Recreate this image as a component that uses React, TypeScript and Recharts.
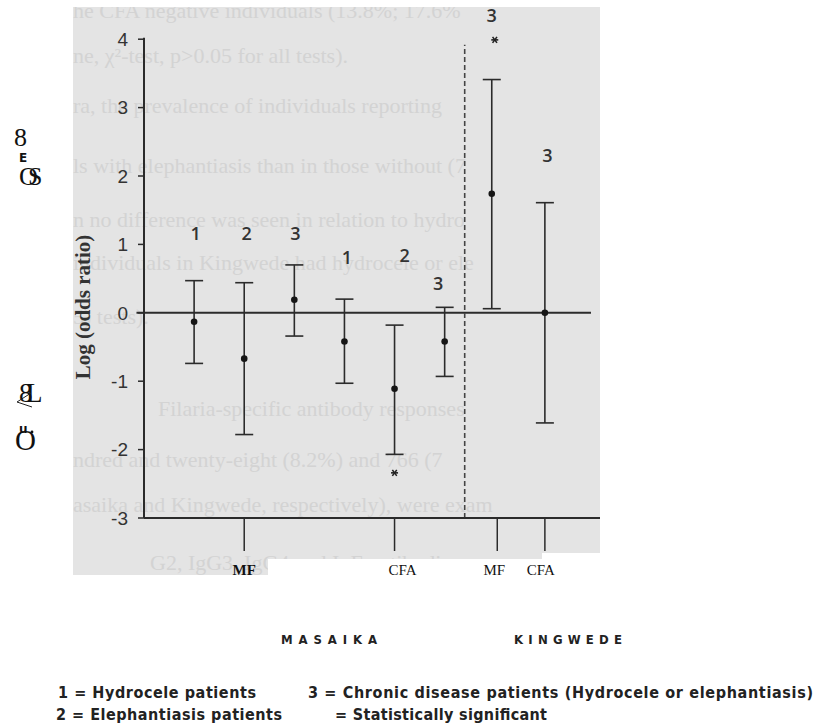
import { ComposedChart, Scatter, ErrorBar, XAxis, YAxis, ReferenceLine } from 'recharts'

// slot positions along the x axis (Masaika: 1-6, Kingwede: ~7-8)
const slots = [1, 2, 3, 4, 5, 6, 6.94, 8]
const groupCodes = ['1', '2', '3', '1', '2', '3', '3', '3']
const logOdds = [-0.13, -0.67, 0.19, -0.42, -1.11, -0.42, 1.74, 0]
const lowerCI = [-0.74, -1.78, -0.34, -1.03, -2.07, -0.93, 0.06, -1.61]
const upperCI = [0.47, 0.44, 0.7, 0.2, -0.18, 0.08, 3.41, 1.61]
const codeSlots = [1.03, 2.05, 3.02, 4.05, 5.2, 5.87, 6.94, 8.05]
const codeLabelAt = [1.16, 1.16, 1.16, 0.82, 0.84, 0.43, 4.35, 2.3]
const starSlots = [5, 7.0]
const starAt = [-2.34, 3.99]
const testTicks = [2, 5, 7.05, 8]
const testLabels = ['MF', 'CFA', 'MF', 'CFA']
const yTicks = [-3, -2, -1, 0, 1, 2, 3, 4]
const siteDivider = 6.4

const pageText = [
  { y: 18, x: 73, t: 'he CFA negative individuals (13.8%; 17.6%' },
  { y: 63, x: 73, t: 'ne, χ²-test, p>0.05 for all tests).' },
  { y: 113, x: 73, t: 'ra, the prevalence of individuals reporting' },
  { y: 173, x: 73, t: 'ls with elephantiasis than in those without (7' },
  { y: 227, x: 73, t: 'n no difference was seen in relation to hydro' },
  { y: 270, x: 73, t: 'individuals in Kingwede had hydrocele or ele' },
  { y: 324, x: 73, t: '5) tests).' },
  { y: 416, x: 158, t: 'Filaria-specific antibody responses' },
  { y: 467, x: 73, t: 'ndred and twenty-eight (8.2%) and 766 (7' },
  { y: 512, x: 73, t: 'asaika and Kingwede, respectively), were exam' },
  { y: 570, x: 150, t: 'G2, IgG3, IgG4 and IgE antibodies' },
]

const points = slots.map((x, i) => ({
  x,
  y: logOdds[i],
  ci: [logOdds[i] - lowerCI[i], upperCI[i] - logOdds[i]],
}))
const codes = codeSlots.map((x, i) => ({ x, y: codeLabelAt[i], code: groupCodes[i] }))
const stars = starSlots.map((x, i) => ({ x, y: starAt[i] }))

const ink = '#2b2b2b'
const labelDx = [0, 8, -3, -4]

function TestTick(props: any) {
  const { x, y, index } = props
  const bold = index === 0
  return (
    <g>
      <defs>
        <clipPath id={`tt${index}`}>
          <rect x={x - 30} y={y} width={60} height={bold ? 24 : 40} />
        </clipPath>
      </defs>
      <text
        x={x + labelDx[index]}
        y={y + 24}
        textAnchor="middle"
        clipPath={`url(#tt${index})`}
        fontFamily="'Liberation Serif', serif"
        fontWeight={bold ? 700 : 400}
        fontSize={15}
        fill="#111"
      >
        {testLabels[index]}
      </text>
    </g>
  )
}

function Dot(props: any) {
  const { cx, cy } = props
  return <circle cx={cx} cy={cy} r={3.3} fill="#151515" />
}

function CodeLabel(props: any) {
  const { cx, cy, payload } = props
  return (
    <text
      x={cx}
      y={cy}
      textAnchor="middle"
      dominantBaseline="central"
      fontFamily="'Open Sans', sans-serif"
      fontSize={18}
      fontWeight={600}
      fill="#333"
    >
      {payload.code}
    </text>
  )
}

function Star(props: any) {
  const { cx, cy } = props
  return (
    <g stroke="#222" strokeWidth={1.6}>
      <line x1={cx - 3.5} y1={cy} x2={cx + 3.5} y2={cy} />
      <line x1={cx - 2.2} y1={cy - 3} x2={cx + 2.2} y2={cy + 3} />
      <line x1={cx + 2.2} y1={cy - 3} x2={cx - 2.2} y2={cy + 3} />
    </g>
  )
}

export default function App() {
  return (
    <div style={{ position: 'absolute', left: 0, top: 0, width: 816, height: 727, background: '#fff', overflow: 'hidden' }}>
      {/* scanned panel */}
      <div style={{ position: 'absolute', left: 73, top: 7, width: 527, height: 568, background: '#e4e4e4' }} />
      <svg width={816} height={727} style={{ position: 'absolute', left: 0, top: 0 }}>
        <defs>
          <clipPath id="panel">
            <rect x={73} y={7} width={527} height={568} />
          </clipPath>
        </defs>
        <g clipPath="url(#panel)" fontFamily="'Liberation Serif', serif" fontSize={22} fill="#d3d3d3">
          {pageText.map((l) => (
            <text key={l.y} x={l.x} y={l.y}>
              {l.t}
            </text>
          ))}
        </g>
      </svg>
      <div style={{ position: 'absolute', left: 268, top: 559, width: 274, height: 20, background: '#fff' }} />
      <div style={{ position: 'absolute', left: 542, top: 553, width: 58, height: 25, background: '#fff' }} />

      <div style={{ position: 'absolute', left: 0, top: 0 }}>
        <ComposedChart width={816} height={600} margin={{ top: 5, right: 216, bottom: 22, left: 84 }}>
          <XAxis
            type="number"
            dataKey="x"
            domain={[0, 9.1]}
            ticks={testTicks}
            interval={0}
            tickSize={33}
            tickMargin={0}
            height={60}
            axisLine={{ stroke: ink, strokeWidth: 2 }}
            tickLine={{ stroke: ink, strokeWidth: 1.5 }}
            tick={<TestTick />}
          />
          <YAxis
            type="number"
            dataKey="y"
            domain={[-3, 4.5]}
            ticks={yTicks}
            interval={0}
            width={60}
            tickSize={6}
            tickMargin={10}
            axisLine={false}
            tickLine={{ stroke: ink, strokeWidth: 1.5 }}
            tick={{ fontFamily: "'Liberation Sans', Arial, sans-serif", fontSize: 19, fill: '#333' }}
          />
          <ReferenceLine
            segment={[{ x: 0, y: -3 }, { x: 0, y: 4.02 }]}
            stroke={ink}
            strokeWidth={2}
            ifOverflow="visible"
          />
          <ReferenceLine
            segment={[{ x: -0.15, y: 0 }, { x: 8.92, y: 0 }]}
            stroke={ink}
            strokeWidth={2}
            ifOverflow="visible"
          />
          <ReferenceLine
            segment={[{ x: siteDivider, y: -3 }, { x: siteDivider, y: 3.92 }]}
            stroke="#444"
            strokeWidth={1.6}
            strokeDasharray="5 3"
            ifOverflow="visible"
          />
          <Scatter data={points} dataKey="y" shape={<Dot />} isAnimationActive={false}>
            <ErrorBar dataKey="ci" direction="y" width={9} stroke={ink} strokeWidth={1.6} isAnimationActive={false} />
          </Scatter>
          <Scatter data={codes} dataKey="y" shape={<CodeLabel />} isAnimationActive={false} />
          <Scatter data={stars} dataKey="y" shape={<Star />} isAnimationActive={false} />
        </ComposedChart>
      </div>

      <svg width={816} height={727} style={{ position: 'absolute', left: 0, top: 0, pointerEvents: 'none' }}>
        <text
          transform="translate(90,307) rotate(-90)"
          textAnchor="middle"
          fontFamily="'Liberation Serif', serif"
          fontWeight={700}
          fontSize={21}
          fill="#333"
        >
          Log (odds ratio)
        </text>
        {/* stray glyphs */}
        <g fontFamily="'Liberation Serif', serif" fill="#111">
          <text x={14} y={146} fontSize={26}>8</text>
          <text x={19} y={162} fontSize={12} fontFamily="'DejaVu Sans', sans-serif" fontWeight={700}>E</text>
          <text x={19} y={185} fontSize={26}>O</text>
          <text x={28} y={185} fontSize={26}>S</text>
          <text x={19} y={402} fontSize={27}>8</text>
          <text x={26} y={402} fontSize={27}>L</text>
          <text x={19} y={433} fontSize={12} fontFamily="'DejaVu Sans', sans-serif" fontWeight={700}>u</text>
          <text x={15} y={450} fontSize={29}>O</text>
          <circle cx={32} cy={432} r={1.4} />
        </g>
        <path d="M31 393 L17 402 L32 407" stroke="#222" strokeWidth={1} fill="none" />
        <g fontFamily="'DejaVu Sans Condensed', 'DejaVu Sans', sans-serif" fontWeight={700} fill="#222">
          <text x={281} y={644} fontSize={13} textLength={96} lengthAdjust="spacing">MASAIKA</text>
          <text x={514} y={644} fontSize={13} textLength={108} lengthAdjust="spacing">KINGWEDE</text>
          <text x={58} y={698} fontSize={16} textLength={198} lengthAdjust="spacing">1 = Hydrocele patients</text>
          <text x={308} y={698} fontSize={16} textLength={505} lengthAdjust="spacing">3 = Chronic disease patients (Hydrocele or elephantiasis)</text>
          <text x={56} y={720} fontSize={16} textLength={226} lengthAdjust="spacing">2 = Elephantiasis patients</text>
          <text x={335} y={720} fontSize={16} textLength={212} lengthAdjust="spacing">= Statistically significant</text>
        </g>
      </svg>
    </div>
  )
}
